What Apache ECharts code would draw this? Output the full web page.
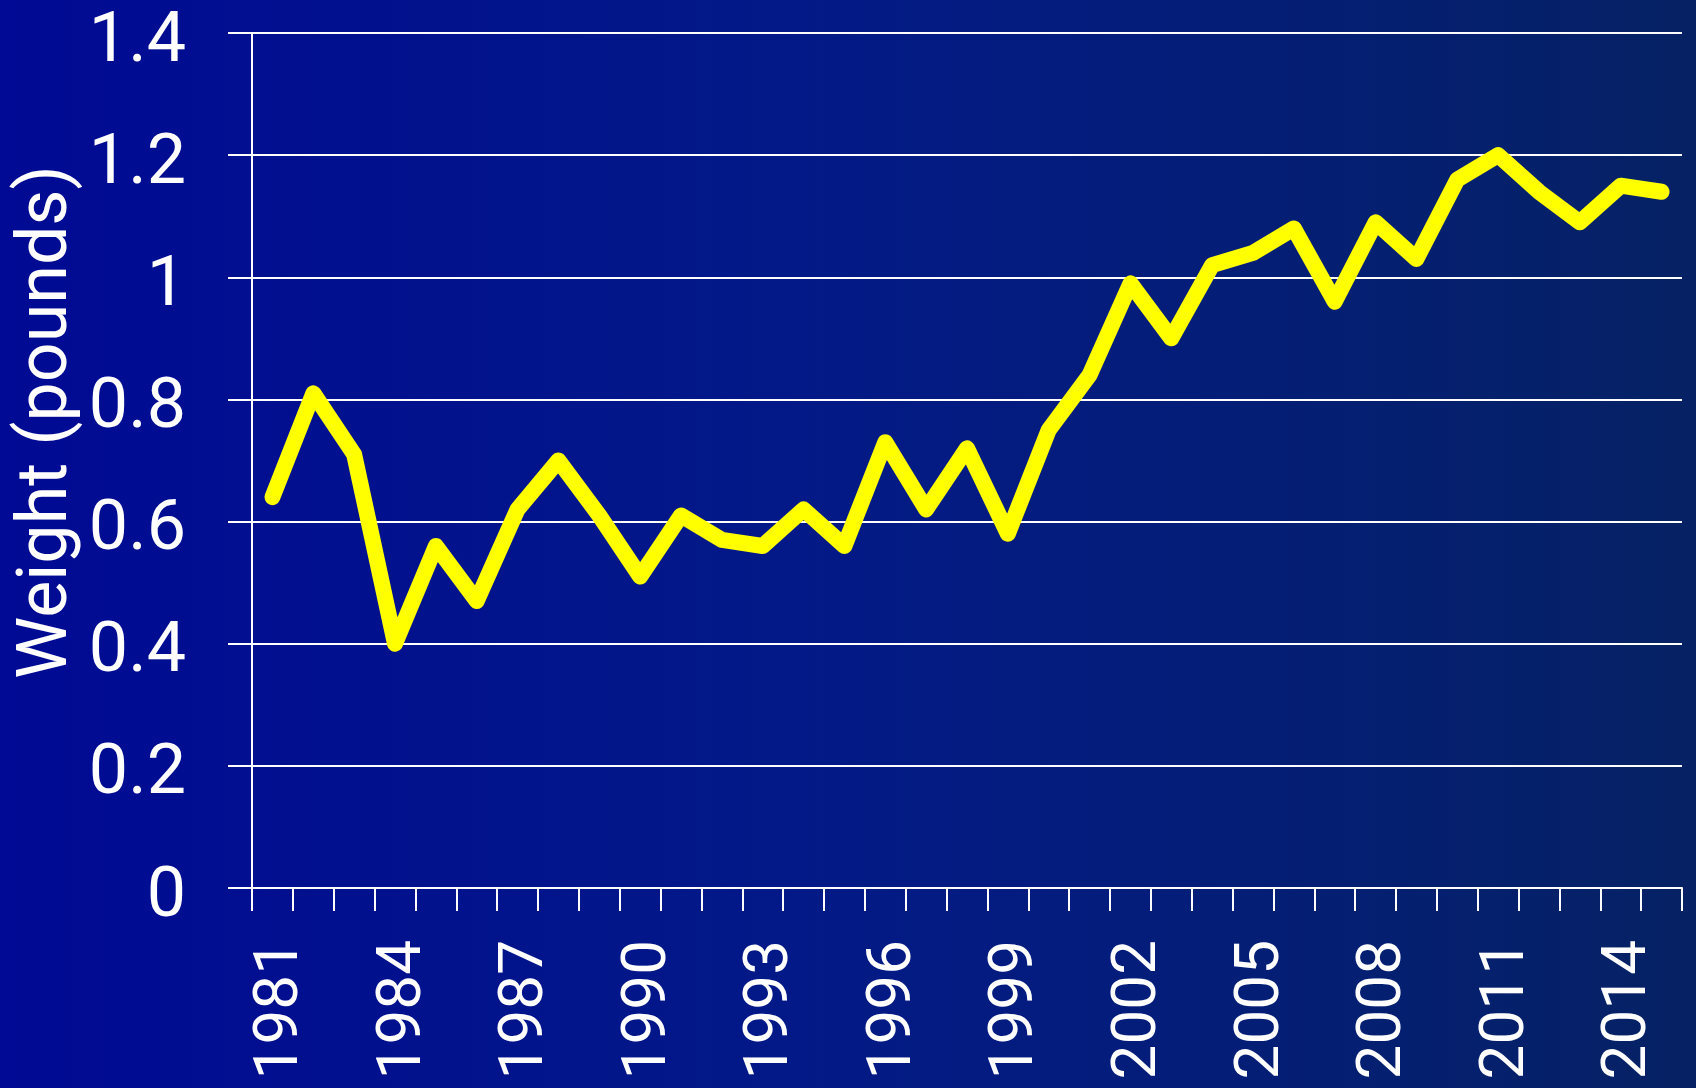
<!DOCTYPE html>
<html>
<head>
<meta charset="utf-8">
<title>Weight (pounds)</title>
<script src="https://cdn.jsdelivr.net/npm/echarts@6/dist/echarts.min.js"></script>
<style>
  html, body { margin: 0; padding: 0; }
  #chart { width: 1696px; height: 1088px; }
</style>
</head>
<body>
<div id="chart"></div>
<script>
// years on the x axis
const years = [
  '1981','1982','1983','1984','1985','1986','1987','1988','1989','1990',
  '1991','1992','1993','1994','1995','1996','1997','1998','1999','2000',
  '2001','2002','2003','2004','2005','2006','2007','2008','2009','2010',
  '2011','2012','2013','2014','2015'
];
// weight in pounds
const weight = [
  0.64, 0.81, 0.71, 0.40, 0.56, 0.47, 0.62, 0.70, 0.61, 0.51,
  0.61, 0.57, 0.56, 0.62, 0.56, 0.73, 0.62, 0.72, 0.58, 0.75,
  0.84, 0.99, 0.90, 1.02, 1.04, 1.08, 0.96, 1.09, 1.03, 1.16,
  1.20, 1.14, 1.09, 1.15, 1.14
];
const yMin = 0;
const yMax = 1.4;
const yStep = 0.2;

const fontName = 'Roboto';
const white = '#ffffff';

let myChart = echarts.init(document.getElementById('chart'));
myChart.setOption({
  backgroundColor: {
    type: 'linear', x: 0, y: 0, x2: 1, y2: 0,
    colorStops: [
      { offset: 0, color: '#000a94' },
      { offset: 0.5, color: '#031a86' },
      { offset: 1, color: '#062264' }
    ]
  },
  animation: false,
  // keep the plot box fixed, labels may run off the bottom like the original
  grid: { left: 252, right: 14, top: 33, bottom: 200, outerBoundsMode: 'none', containLabel: false },
  // y axis title, sits a bit above the middle like the original
  graphic: [{
    type: 'text',
    x: 48,
    y: 422,
    rotation: Math.PI / 2,
    style: {
      text: 'Weight (pounds)',
      fill: white,
      font: '70px ' + fontName,
      align: 'center',
      verticalAlign: 'middle'
    }
  }],
  xAxis: {
    type: 'category',
    data: years,
    boundaryGap: true,
    axisLine: { show: true, lineStyle: { color: white, width: 2 } },
    axisTick: { show: true, interval: 0, length: 23, lineStyle: { color: white, width: 2 } },
    axisLabel: {
      interval: 2,
      rotate: 90,
      margin: 52,
      verticalAlign: 'top',
      lineHeight: 18,
      color: white,
      fontSize: 62,
      fontFamily: fontName
    },
    splitLine: { show: false }
  },
  yAxis: {
    type: 'value',
    min: yMin,
    max: yMax,
    interval: yStep,
    axisLine: { show: true, lineStyle: { color: white, width: 2 } },
    axisTick: { show: true, length: 24, lineStyle: { color: white, width: 2 } },
    axisLabel: {
      margin: 66,
      verticalAlign: 'top',
      lineHeight: 20,
      color: white,
      fontSize: 70,
      fontFamily: fontName
    },
    splitLine: { show: true, lineStyle: { color: white, width: 2 } }
  },
  series: [{
    type: 'line',
    data: weight,
    symbol: 'none',
    lineStyle: { color: '#ffff00', width: 16, cap: 'round', join: 'round' }
  }]
});
</script>
</body>
</html>
